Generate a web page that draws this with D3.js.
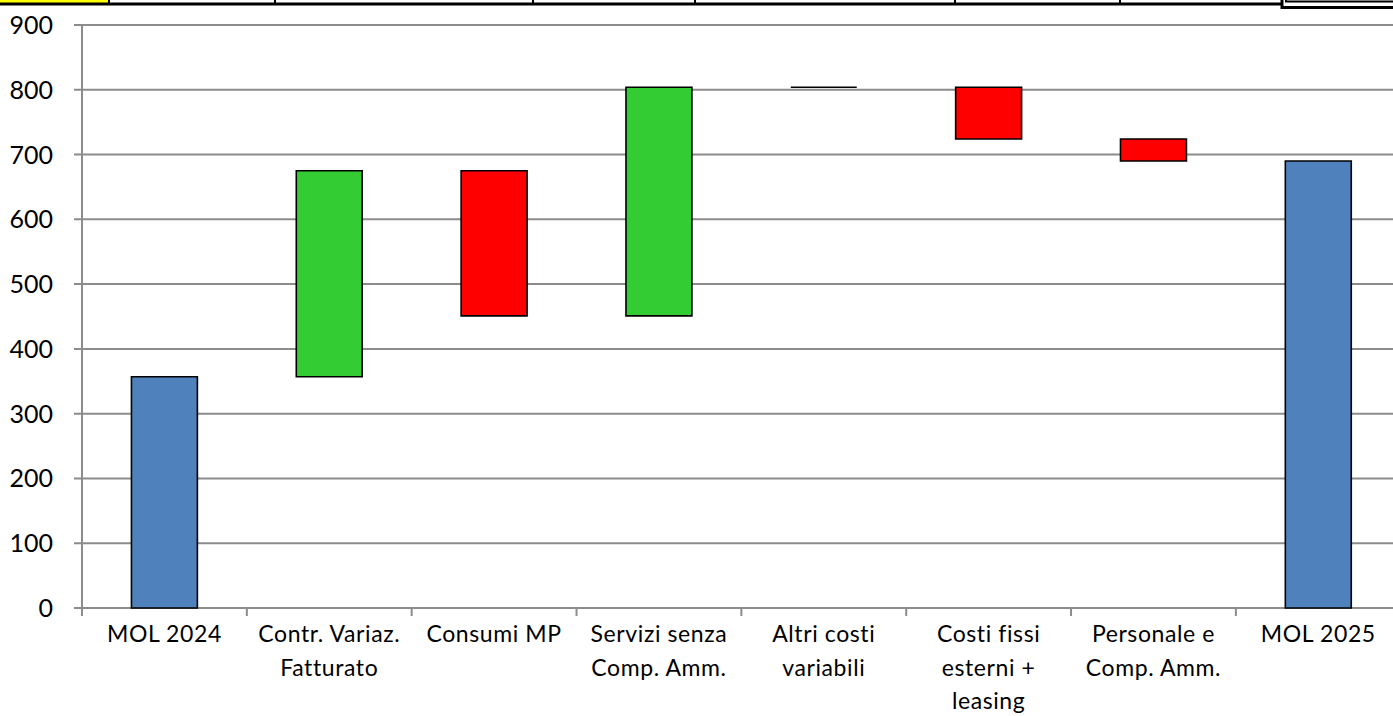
<!DOCTYPE html>
<html lang="it">
<head>
<meta charset="UTF-8">
<title>Waterfall MOL</title>
<script src="https://cdn.jsdelivr.net/npm/d3@7/dist/d3.min.js"></script>
<style>
  body { margin: 0; background: #fff; }
  svg text { font-family: Lato, "Open Sans", sans-serif; fill: #000; }
</style>
</head>
<body>
<div id="chart"></div>
<script>
// dati
const categories = [
  ["MOL 2024"],
  ["Contr. Variaz.", "Fatturato"],
  ["Consumi MP"],
  ["Servizi senza", "Comp. Amm."],
  ["Altri costi", "variabili"],
  ["Costi fissi", "esterni +", "leasing"],
  ["Personale e", "Comp. Amm."],
  ["MOL 2025"]
];
const deltas = [357, 318, -224, 353, 0, -80, -34, null]; // null = totale
const kinds = ["total", "delta", "delta", "delta", "delta", "delta", "delta", "total"];
const yTicks = [0, 100, 200, 300, 400, 500, 600, 700, 800, 900];
const topCols = [109, 275, 533, 695, 955, 1120]; // righe del foglio sopra al grafico

const W = 1393, H = 716;
const svg = d3.select("#chart").append("svg").attr("width", W).attr("height", H);

// pezzo di foglio di calcolo in alto
svg.append("rect").attr("x", 0).attr("y", 0).attr("width", 108).attr("height", 3).attr("fill", "#ffff00");
svg.append("line").attr("x1", 0).attr("x2", 1283).attr("y1", 4).attr("y2", 4).attr("stroke", "#000").attr("stroke-width", 3);
topCols.forEach(x => {
  svg.append("line").attr("x1", x).attr("x2", x).attr("y1", 0).attr("y2", 5).attr("stroke", "#000").attr("stroke-width", 2);
});
svg.append("path").attr("d", "M1282,0 V7.5 H1393").attr("fill", "none").attr("stroke", "#000").attr("stroke-width", 3);
svg.append("path").attr("d", "M1286,0 V1.5 H1393").attr("fill", "none").attr("stroke", "#000").attr("stroke-width", 2);

const mLeft = 82, mBottom = 608, mTop = 25;
const bw = 164.84;
const x = d3.scaleBand().domain(d3.range(categories.length)).range([mLeft, mLeft + bw * categories.length]).paddingInner(0).paddingOuter(0);
const y = d3.scaleLinear().domain([0, 900]).range([mBottom, mTop]);

// calcolo delle barre a cascata
let run = 0;
const bars = deltas.map((d, i) => {
  if (kinds[i] === "total" && d === null) return { i, y0: 0, y1: run, kind: "total" };
  if (kinds[i] === "total") { run = d; return { i, y0: 0, y1: d, kind: "total" }; }
  const start = run;
  run += d;
  return { i, y0: start, y1: run, kind: d >= 0 ? "up" : "down" };
});
const colors = { total: "#4f81bd", up: "#33cc33", down: "#ff0000" };

// griglia
svg.append("g").selectAll("line").data(yTicks).enter().append("line")
  .attr("x1", mLeft - 8).attr("x2", W)
  .attr("y1", d => y(d)).attr("y2", d => y(d))
  .attr("stroke", "#8c8c8c").attr("stroke-width", 2);

// asse y
svg.append("line").attr("x1", mLeft).attr("x2", mLeft).attr("y1", mTop).attr("y2", mBottom + 8)
  .attr("stroke", "#8c8c8c").attr("stroke-width", 2);
svg.append("g").selectAll("text").data(yTicks).enter().append("text")
  .attr("x", 53).attr("y", d => y(d)).attr("dy", "0.36em")
  .attr("text-anchor", "end").attr("font-size", 25)
  .text(d => d);

// tacche asse x
svg.append("g").selectAll("line").data(d3.range(categories.length + 1)).enter().append("line")
  .attr("x1", i => mLeft + i * bw).attr("x2", i => mLeft + i * bw)
  .attr("y1", mBottom).attr("y2", mBottom + 8)
  .attr("stroke", "#8c8c8c").attr("stroke-width", 2);

// barre
const barW = x.bandwidth() * 0.4;
svg.append("g").selectAll("path").data(bars).enter().append("path")
  .attr("d", d => {
    const x0 = x(d.i) + (x.bandwidth() - barW) / 2;
    const yt = y(Math.max(d.y0, d.y1)), yb = y(Math.min(d.y0, d.y1));
    return `M${x0},${yt}H${x0 + barW}V${yb}H${x0}Z`;
  })
  .attr("fill", d => colors[d.kind])
  .attr("stroke", "#000").attr("stroke-width", 1.6);

// etichette categorie
const lab = svg.append("g").selectAll("text").data(categories).enter().append("text")
  .attr("text-anchor", "middle").attr("font-size", 23).attr("letter-spacing", 0.6)
  .attr("x", (d, i) => x(i) + x.bandwidth() / 2);
lab.selectAll("tspan").data(d => d).enter().append("tspan")
  .attr("x", function () { return this.parentNode.getAttribute("x"); })
  .attr("y", (d, j) => 642 + j * 33.5)
  .text(d => d);
</script>
</body>
</html>
